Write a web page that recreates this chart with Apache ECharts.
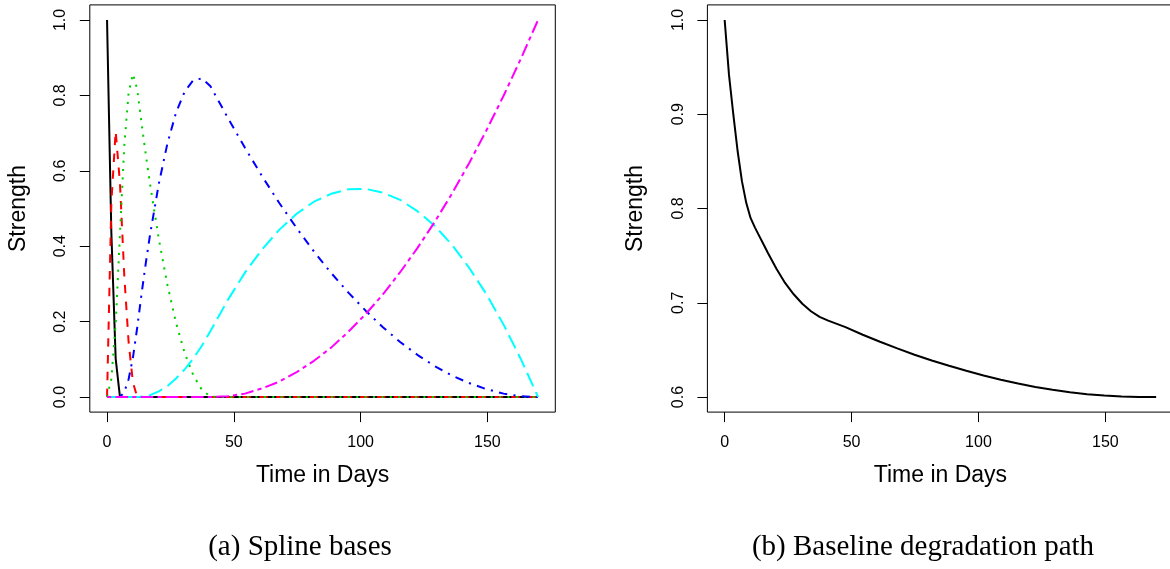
<!DOCTYPE html>
<html>
<head>
<meta charset="utf-8">
<script src="https://cdn.jsdelivr.net/npm/echarts@6/dist/echarts.min.js"></script>
<style>
html,body{margin:0;padding:0;background:#fff;}
#chart{width:1170px;height:569px;}
</style>
</head>
<body>
<div id="chart"></div>
<script>
// ---- data ----
const days = [0, 1.7, 3.4, 5.1, 6.8, 8.5, 10.2, 11.9, 13.6, 15.3, 17, 20.4, 23.8, 27.2, 30.6, 34, 37.4, 40.8,
  47.6, 54.4, 61.2, 68, 74.8, 81.6, 88.4, 95.2, 102, 108.8, 115.6, 122.4, 129.2, 136, 142.8, 149.6, 156.4, 163.2, 170];

const basisBlack = [1, 0.436, 0.102, 0, 0, 0, 0, 0, 0, 0, 0, 0, 0, 0, 0, 0, 0, 0,
  0, 0, 0, 0, 0, 0, 0, 0, 0, 0, 0, 0, 0, 0, 0, 0, 0, 0, 0];
const basisRed = [0, 0.516, 0.705, 0.567, 0.322, 0.146, 0.039, 0.000, 0, 0, 0, 0, 0, 0, 0, 0, 0, 0,
  0, 0, 0, 0, 0, 0, 0, 0, 0, 0, 0, 0, 0, 0, 0, 0, 0, 0, 0];
const basisGreen = [0, 0.048, 0.193, 0.433, 0.666, 0.807, 0.857, 0.816, 0.727, 0.642, 0.563, 0.420, 0.298, 0.197, 0.117, 0.058, 0.019, 0.001,
  0, 0, 0, 0, 0, 0, 0, 0, 0, 0, 0, 0, 0, 0, 0, 0, 0, 0, 0];
const basisBlue = [0, 0, 0, 0, 0.013, 0.047, 0.104, 0.184, 0.273, 0.356, 0.432, 0.565, 0.672, 0.754, 0.810, 0.840, 0.845, 0.824,
  0.741, 0.661, 0.585, 0.514, 0.448, 0.386, 0.329, 0.277, 0.229, 0.185, 0.146, 0.112, 0.082, 0.057, 0.037, 0.021, 0.009, 0.002, 0];
const basisCyan = [0, 0, 0, 0, 0, 0, 0, 0, 0.001, 0.002, 0.005, 0.015, 0.029, 0.049, 0.073, 0.102, 0.136, 0.175,
  0.257, 0.330, 0.392, 0.444, 0.486, 0.518, 0.539, 0.551, 0.552, 0.542, 0.523, 0.493, 0.454, 0.404, 0.343, 0.273, 0.192, 0.101, 0];
const basisMagenta = [0, 0, 0, 0, 0, 0, 0, 0, 0, 0, 0, 0, 0, 0, 0, 0, 0, 0,
  0.002, 0.009, 0.023, 0.041, 0.066, 0.096, 0.131, 0.173, 0.220, 0.272, 0.331, 0.395, 0.464, 0.539, 0.620, 0.707, 0.799, 0.897, 1];

const baselinePath = [1.000, 0.942, 0.900, 0.861, 0.829, 0.806, 0.790, 0.780, 0.771, 0.762, 0.753, 0.736, 0.721, 0.709, 0.699, 0.691, 0.685, 0.681,
  0.6741, 0.6661, 0.6586, 0.6516, 0.6449, 0.6388, 0.6331, 0.6278, 0.6229, 0.6184, 0.6143, 0.6107, 0.6076, 0.6050, 0.6030, 0.6015, 0.6006, 0.6001, 0.6000];

const xTicks = [0, 50, 100, 150];
const yTicksLeft = [0, 0.2, 0.4, 0.6, 0.8, 1.0];
const yTicksRight = [0.6, 0.7, 0.8, 0.9, 1.0];

const xTitle = 'Time in Days';
const yTitle = 'Strength';
const captionA = '(a) Spline bases';
const captionB = '(b) Baseline degradation path';

// ---- chart ----
const SANS = '"Liberation Sans", Arial, sans-serif';
const SERIF = '"Liberation Serif", "Times New Roman", serif';

function pairs(ys) { return days.map((d, i) => [d, ys[i]]); }

function xAxisCfg(grid) {
  return {
    type: 'value', gridIndex: grid, min: -6.8, max: 176.8,
    axisLine: { show: false, onZero: false },
    axisTick: { show: true, inside: false, customValues: xTicks, length: 10, lineStyle: { color: '#000', width: 1 } },
    axisLabel: { customValues: xTicks, margin: 22, fontSize: 16, fontFamily: SANS, color: '#000' },
    splitLine: { show: false },
    name: xTitle, nameLocation: 'middle', nameGap: 52, nameMoveOverlap: false,
    nameTextStyle: { fontSize: 23, fontFamily: SANS, color: '#000' }
  };
}
function yAxisCfg(grid, min, max, ticks) {
  return {
    type: 'value', gridIndex: grid, min: min, max: max,
    axisLine: { show: false, onZero: false },
    axisTick: { show: true, inside: false, customValues: ticks, length: 10, lineStyle: { color: '#000', width: 1 } },
    axisLabel: { customValues: ticks, rotate: 90, margin: 21, fontSize: 16, fontFamily: SANS, color: '#000',
      formatter: v => Number(v).toFixed(1) },
    splitLine: { show: false },
    name: yTitle, nameLocation: 'middle', nameGap: 60, nameMoveOverlap: false,
    nameTextStyle: { fontSize: 23, fontFamily: SANS, color: '#000' }
  };
}
function lineSeries(ys, color, dash, xi, yi, z) {
  return {
    type: 'line', xAxisIndex: xi, yAxisIndex: yi, data: pairs(ys),
    showSymbol: false, symbol: 'none', silent: true, animation: false, z: z,
    lineStyle: { color: color, width: 2, type: dash, cap: 'butt' }
  };
}

const u = 2.1;
const option = {
  animation: false,
  backgroundColor: '#fff',
  grid: [
    { left: 89.8, top: 4.9, width: 465.5, height: 407.2, show: true, borderColor: '#000', borderWidth: 1,
      backgroundColor: 'transparent', containLabel: false, outerBoundsMode: 'none' },
    { left: 707.4, top: 4.9, width: 466, height: 407.2, show: true, borderColor: '#000', borderWidth: 1,
      backgroundColor: 'transparent', containLabel: false, outerBoundsMode: 'none' }
  ],
  xAxis: [xAxisCfg(0), xAxisCfg(1)],
  yAxis: [yAxisCfg(0, -0.04, 1.04, yTicksLeft), yAxisCfg(1, 0.584, 1.016, yTicksRight)],
  series: [
    lineSeries(basisBlack, '#000000', 'solid', 0, 0, 2),
    lineSeries(basisRed, '#FF0000', [4 * u, 4 * u], 0, 0, 3),
    lineSeries(basisGreen, '#00CD00', [1 * u, 3 * u], 0, 0, 4),
    lineSeries(basisBlue, '#0000FF', [1 * u, 3 * u, 4 * u, 3 * u], 0, 0, 5),
    lineSeries(basisCyan, '#00FFFF', [7 * u, 3 * u], 0, 0, 6),
    lineSeries(basisMagenta, '#FF00FF', [2 * u, 2 * u, 6 * u, 2 * u], 0, 0, 7),
    lineSeries(baselinePath, '#000000', 'solid', 1, 1, 2)
  ],
  graphic: [
    { type: 'text', x: 300, y: 547, silent: true,
      style: { text: captionA, fontSize: 29, fontFamily: SERIF, fill: '#000', align: 'center', verticalAlign: 'middle' } },
    { type: 'text', x: 923, y: 547, silent: true,
      style: { text: captionB, fontSize: 29, fontFamily: SERIF, fill: '#000', align: 'center', verticalAlign: 'middle' } }
  ]
};

const chart = echarts.init(document.getElementById('chart'), null, { renderer: 'canvas' });
chart.setOption(option);
</script>
</body>
</html>
